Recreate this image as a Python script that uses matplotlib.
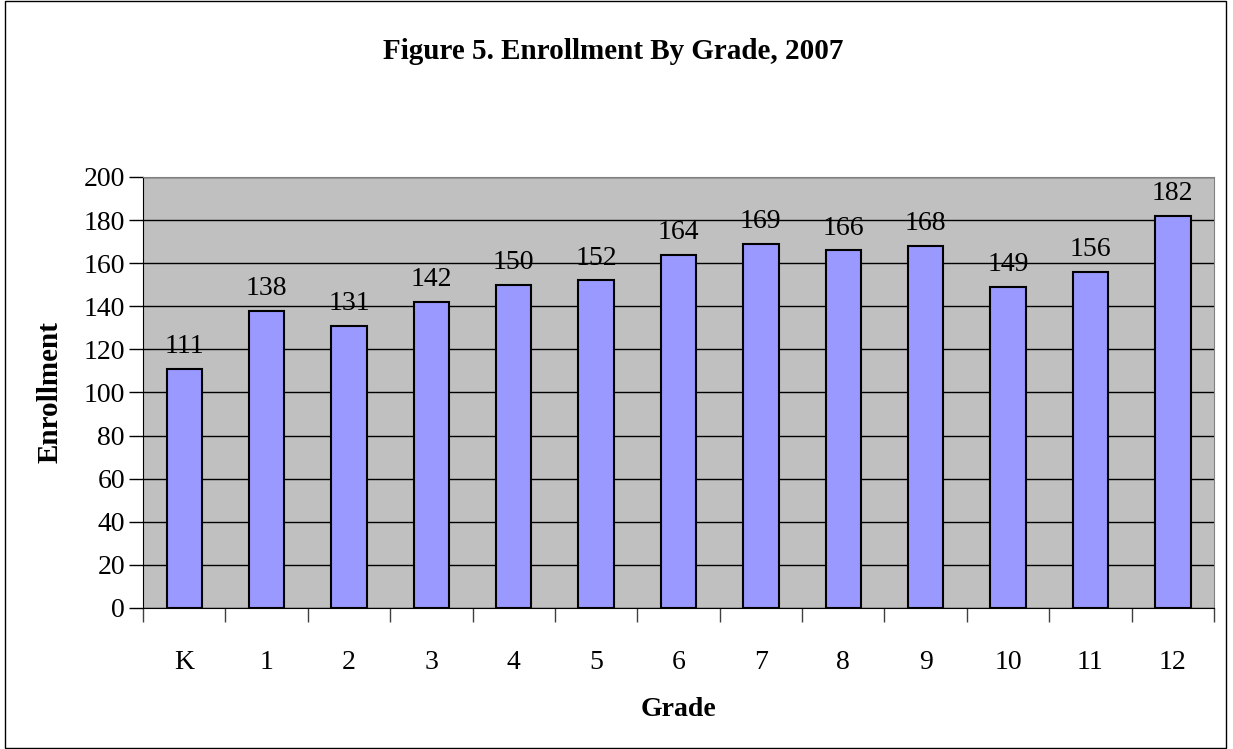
import numpy as np
import matplotlib.pyplot as plt
from matplotlib.patches import Rectangle

grades = ["K", "1", "2", "3", "4", "5", "6", "7", "8", "9", "10", "11", "12"]
enrollment = [111, 138, 131, 142, 150, 152, 164, 169, 166, 168, 149, 156, 182]

plt.rcParams['font.family'] = ['Liberation Serif', 'DejaVu Serif']

fig = plt.figure(figsize=(12.33, 7.49), dpi=100)
ax = fig.add_axes([0.116, 0.1883, 0.8686, 0.5754])

x = np.arange(len(grades))
ax.set_facecolor('#C0C0C0')
bars = ax.bar(x, enrollment, width=0.43, color='#9999FF', edgecolor='black',
              linewidth=1.5, zorder=3)

for xi, v in zip(x, enrollment):
    ax.annotate(str(v), (xi, v), xytext=(0, 7), textcoords='offset points',
                ha='center', va='bottom', fontsize=20)

ax.set_xlim(-0.5, len(grades) - 0.5)
ax.set_ylim(0, 200)
ax.set_yticks(np.arange(0, 201, 20))
ax.yaxis.grid(True, color='black', linewidth=1, zorder=1)
ax.set_axisbelow(True)

# ticks sit between the categories, labels in the middle
ax.set_xticks(np.arange(-0.5, len(grades), 1))
ax.set_xticklabels([])
ax.set_xticks(x, minor=True)
ax.set_xticklabels(grades, minor=True)
ax.tick_params(axis='x', which='major', direction='out', length=10, width=1, color='#404040')
ax.tick_params(axis='x', which='minor', length=0, pad=30, labelsize=20)
ax.tick_params(axis='y', direction='out', length=10, width=1, labelsize=20, pad=3)

for side in ['top', 'right']:
    ax.spines[side].set_color('#808080')
ax.spines['left'].set_color('black')
ax.spines['bottom'].set_color('black')

ax.set_xlabel('Grade', fontsize=20, fontweight='bold', labelpad=16)
ax.set_ylabel('Enrollment', fontsize=21, fontweight='bold', labelpad=14)
fig.text(0.497, 0.931, 'Figure 5. Enrollment By Grade, 2007', ha='center', va='center',
         fontsize=21, fontweight='bold')

fig.patches.append(Rectangle((0.004, 0.001), 0.99, 0.998, transform=fig.transFigure,
                             fill=False, edgecolor='black', linewidth=1))

fig.savefig('out.png', dpi=100)
